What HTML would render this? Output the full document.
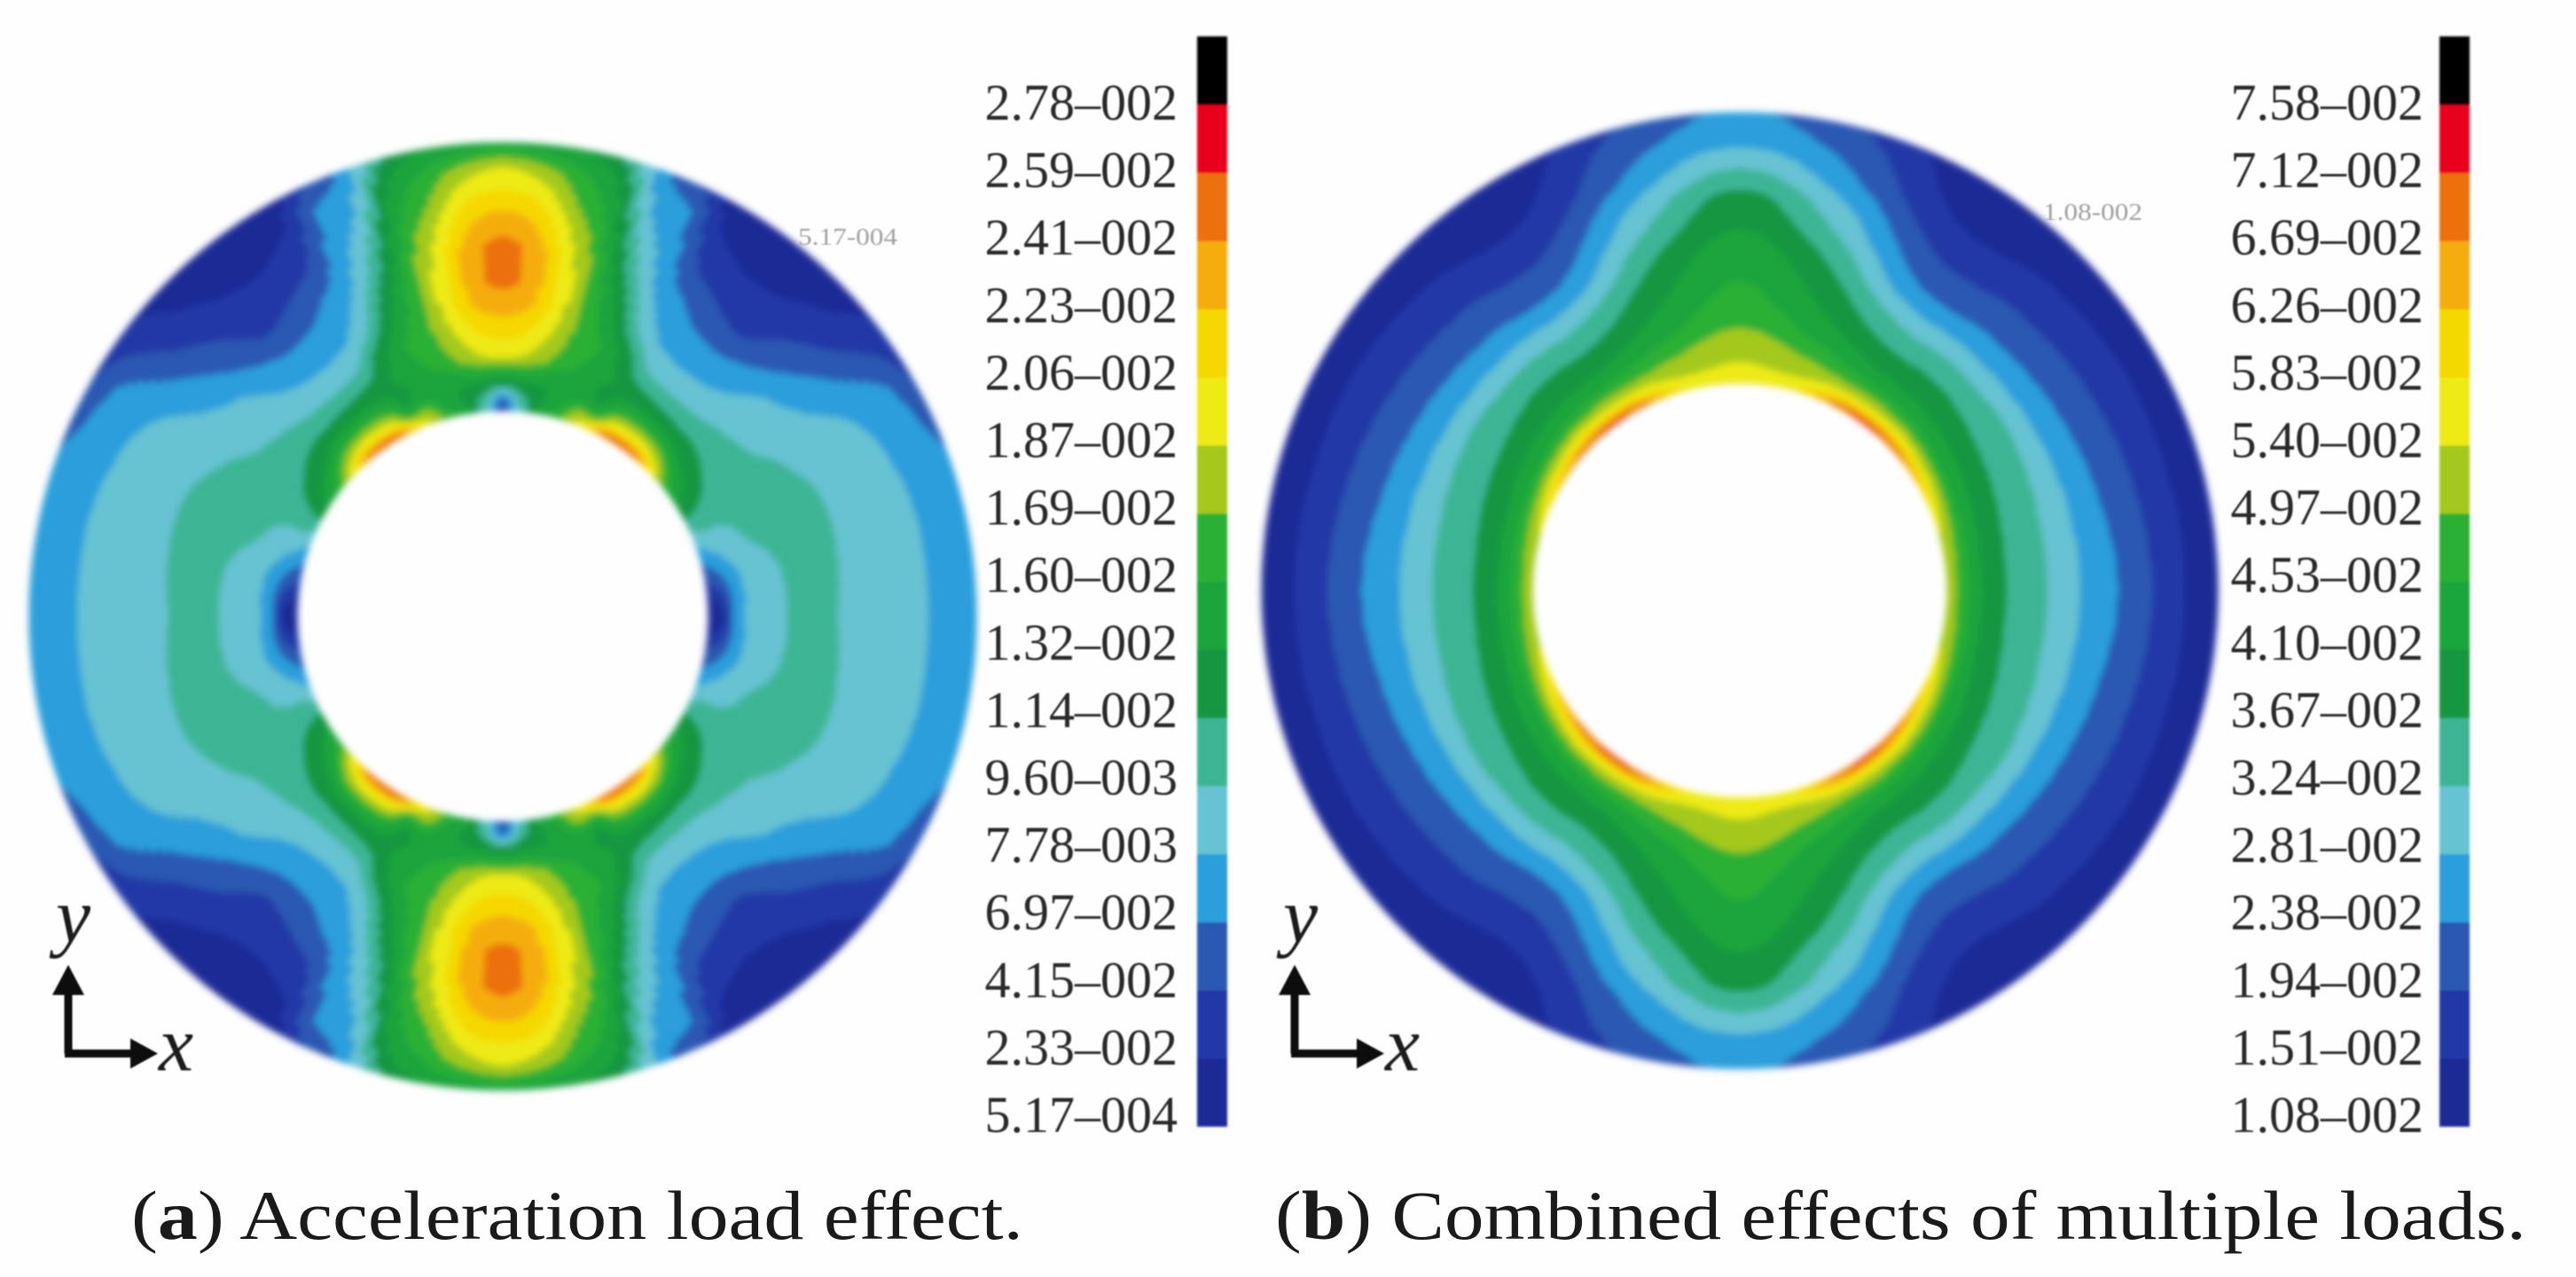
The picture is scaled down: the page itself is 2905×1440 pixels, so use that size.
<!DOCTYPE html>
<html lang="en">
<head>
<meta charset="utf-8">
<title>Acceleration load effect and combined effects of multiple loads</title>
<style>
  html, body { margin: 0; padding: 0; background: #fff; }
  svg { display: block; }
  text { font-family: "Liberation Serif", serif; }
</style>
</head>
<body>
<svg id="figure" width="2905" height="1440" viewBox="0 0 2905 1440" xmlns="http://www.w3.org/2000/svg">
  <defs>
    <filter id="soft" x="-5%" y="-5%" width="110%" height="110%"><feGaussianBlur stdDeviation="4"/></filter>
    <filter id="softText" x="-5%" y="-5%" width="110%" height="110%"><feGaussianBlur stdDeviation="0.9"/></filter>
    <filter id="softBar" x="-30%" y="-2%" width="160%" height="104%"><feGaussianBlur stdDeviation="1.2"/></filter>
  </defs>
  <rect width="2905" height="1440" fill="#fefefe"/>

  <g id="panelA"></g>
  <g id="panelB"></g>

  <g filter="url(#softText)">
    <text x="900" y="276" font-size="27" fill="#a0a0a0" textLength="112" lengthAdjust="spacingAndGlyphs">5.17-004</text>
  </g>
  <g filter="url(#softText)">
    <text x="2304" y="248" font-size="27" fill="#a0a0a0" textLength="112" lengthAdjust="spacingAndGlyphs">1.08-002</text>
  </g>

  <g filter="url(#softText)">
    <path d="M77 1188V1115" stroke="#111" stroke-width="9" fill="none"/>
    <path d="M77 1088L59 1122H95Z" fill="#111"/>
    <path d="M73 1188H152" stroke="#111" stroke-width="9" fill="none"/>
    <path d="M178 1188L147 1171V1205Z" fill="#111"/>
    <text x="63" y="1062" font-size="88" font-style="italic" fill="#1a1a1a">y</text>
    <text x="179" y="1207" font-size="88" font-style="italic" fill="#1a1a1a">x</text>
  </g>
  <g filter="url(#softText)">
    <path d="M1460 1188V1115" stroke="#111" stroke-width="9" fill="none"/>
    <path d="M1460 1088L1442 1122H1478Z" fill="#111"/>
    <path d="M1456 1188H1535" stroke="#111" stroke-width="9" fill="none"/>
    <path d="M1561 1188L1530 1171V1205Z" fill="#111"/>
    <text x="1447" y="1062" font-size="88" font-style="italic" fill="#1a1a1a">y</text>
    <text x="1562" y="1207" font-size="88" font-style="italic" fill="#1a1a1a">x</text>
  </g>

  <g>
    <text x="148" y="1397" font-size="78" fill="#1a1a1a" textLength="1006" lengthAdjust="spacingAndGlyphs">(<tspan font-weight="bold">a</tspan>) Acceleration load effect.</text>
    <text x="1438" y="1397" font-size="78" fill="#1a1a1a" textLength="1411" lengthAdjust="spacingAndGlyphs">(<tspan font-weight="bold">b</tspan>) Combined effects of multiple loads.</text>
  </g>
</svg>

<script>
// Legend tick labels, top to bottom
const labelsA = ["2.78–002","2.59–002","2.41–002","2.23–002","2.06–002","1.87–002","1.69–002","1.60–002","1.32–002","1.14–002","9.60–003","7.78–003","6.97–002","4.15–002","2.33–002","5.17–004"];
const labelsB = ["7.58–002","7.12–002","6.69–002","6.26–002","5.83–002","5.40–002","4.97–002","4.53–002","4.10–002","3.67–002","3.24–002","2.81–002","2.38–002","1.94–002","1.51–002","1.08–002"];

// Band palette, low level to high level
const bandColors = ["#1c2a96","#2038a6","#2b58b2","#2c9fdc","#66c3d2","#3db595","#129641","#1aa43c","#2bb034","#a4c91a","#eeea14","#f5d800","#f5ad0c","#ec6f0e","#e8001e","#000000"];

// Normalised radial stations through the wall (0 = bore, 1 = outer rim)
const wallStations = [0,.05,.1,.15,.2,.3,.4,.5,.6,.7,.8,.9,1];

// Panel (a): contour level read at each angle (deg from +x) and wall station
const anglesA = [0,10,20,30,40,50,60,65,70,75,80,85,90];
const levelsA = [
  [.3,.7,3.2,4.2,4.5,5.05,5.5,4.9,4.6,4.4,4.1,3.6,3.1],
  [2,2.6,3.6,4.2,4.5,5.1,5.5,5,4.6,4.4,4.1,3.6,3.1],
  [4,4.5,4.7,4.9,5.2,5.5,5.5,5,4.6,4.3,4,3.4,3.05],
  [6.5,6.2,5.8,5.5,5.4,5.2,5,4.6,4.3,4,3.6,3.1,2],
  [9,8,7,6.3,5.8,5,4.4,4,3.2,2.6,1.9,1.3,.9],
  [13.5,10.5,8.5,7,6,4.5,3.8,3,2,1.5,1,.6,.4],
  [14,10.5,8.5,7.2,6.5,5,4,3.4,2.9,2,1.4,.8,.4],
  [12,8.5,7,6.8,7,6.8,5.2,4.4,3.7,3.4,3.1,2.9,2],
  [10,9,7.5,7.2,7.6,8,7.3,6.6,5.7,5,4.3,3.8,3.2],
  [8.5,7.5,7.2,7.5,8.2,8.6,8.7,8.7,8.4,8,7.5,7,6],
  [7.5,6.8,7,7.8,9,9.9,10.5,10.7,10.5,9.9,9,8.3,7],
  [5,5.5,6.8,8.2,9.8,11,12.1,12.6,12.6,11.9,10.8,9.5,7.2],
  [2,3,6.2,8.2,10,11.5,12.5,13.4,13.4,12.6,11.3,10.1,7.5]
];

// Panel (b): contour level read at each angle and wall station
const anglesB = [0,15,30,45,60,75,90];
const levelsB = [
  [10,8.5,7.5,6.7,6.1,5.5,4.8,3.9,3.2,2.5,1.6,.8,.2],
  [10,8.8,7.6,6.8,6.2,5.5,4.8,3.8,3,2.3,1.5,.8,.2],
  [12,9.5,8,7.2,6.5,5.6,4.9,3.6,2.8,2.1,1.4,.8,.3],
  [14,10.5,8.5,7.5,6.8,5.9,4.8,3.4,2.6,1.9,1.2,.7,.3],
  [14,10.5,8.8,7.8,7,5.9,4.8,3.4,2.5,1.8,1.1,.6,.3],
  [11,10,9.3,8.7,8,7.2,6.6,5.9,5,4.2,3.2,2.6,2],
  [10.8,10.2,9.8,9.5,9,8.3,7.9,7.4,6.8,6.2,4.9,3.6,3.1]
];

const SVGNS = "http://www.w3.org/2000/svg";

function radialValue(row, rho) {
  let k = 0;
  while (k < wallStations.length - 2 && rho >= wallStations[k + 1]) k++;
  const t = (rho - wallStations[k]) / (wallStations[k + 1] - wallStations[k]);
  return row[k] + (row[k + 1] - row[k]) * t;
}

function sampleField(field, angles, thetaDeg, rho) {
  let a = ((thetaDeg % 180) + 180) % 180;
  if (a > 90) a = 180 - a;
  const last = angles.length - 1;
  let i = 0;
  while (i < last - 1 && a >= angles[i + 1]) i++;
  const angleAt = function (j) {
    if (j < 0) return -angles[-j];
    if (j > last) return 180 - angles[2 * last - j];
    return angles[j];
  };
  const pick = function (j) {
    let m = j;
    if (m < 0) m = -m;
    if (m > last) m = 2 * last - m;
    return radialValue(field[m], rho);
  };
  const t0 = angleAt(i - 1), t1 = angleAt(i), t2 = angleAt(i + 1), t3 = angleAt(i + 2);
  const p0 = pick(i - 1), p1 = pick(i), p2 = pick(i + 1), p3 = pick(i + 2);
  const h = t2 - t1;
  const m1 = (p2 - p0) / (t2 - t0) * h;
  const m2 = (p3 - p1) / (t3 - t1) * h;
  const f = (a - t1) / h;
  const f2 = f * f, f3 = f2 * f;
  return (2 * f3 - 3 * f2 + 1) * p1 + (f3 - 2 * f2 + f) * m1 + (-2 * f3 + 3 * f2) * p2 + (f3 - f2) * m2;
}

function drawDisc(parentId, suffix, cx, cy, R, ri, field, angles) {
  const parent = document.getElementById(parentId);
  const group = document.createElementNS(SVGNS, "g");
  
  
  group.setAttribute("filter", "url(#soft)");
  const parts = bandColors.map(function () { return []; });
  const dTheta = 1, nRho = 160;
  const px = function (rho, theta) {
    const r = ri + (R - ri) * rho;
    const t = theta * Math.PI / 180;
    return (cx + r * Math.cos(t)).toFixed(1) + " " + (cy - r * Math.sin(t)).toFixed(1);
  };
  const bandAt = function (theta, rho) {
    const v = sampleField(field, angles, theta, rho);
    return Math.max(0, Math.min(bandColors.length - 1, Math.floor(v)));
  };
  for (let th = 0; th < 360; th += dTheta) {
    let start = 0;
    let current = bandAt(th + dTheta / 2, 0.5 / nRho);
    for (let n = 1; n <= nRho; n++) {
      const next = n < nRho ? bandAt(th + dTheta / 2, (n + 0.5) / nRho) : -1;
      if (next !== current) {
        const r0 = start / nRho, r1 = n / nRho;
        parts[current].push("M" + px(r0, th) + "L" + px(r1, th) + "L" + px(r1, th + dTheta) + "L" + px(r0, th + dTheta) + "Z");
        start = n;
        current = next;
      }
    }
  }
  parts.forEach(function (list, b) {
    if (!list.length) return;
    const p = document.createElementNS(SVGNS, "path");
    
    
    p.setAttribute("d", list.join(""));
    p.setAttribute("fill", bandColors[b]);
    p.setAttribute("stroke", bandColors[b]);
    p.setAttribute("stroke-width", "1");
    group.appendChild(p);
  });
  parent.appendChild(group);
}

function drawLegend(parentId, suffix, barX, barW, textRight, labels) {
  const parent = document.getElementById(parentId);
  const legendTop = 41, legendBottom = 1270;
  const firstBaseline = 135, labelGap = 76.1;
  const bandH = (legendBottom - legendTop) / bandColors.length;
  const legendY = function (i) { return legendTop + (bandColors.length - 1 - i) * bandH; };
  const bar = document.createElementNS(SVGNS, "g");
  
  
  bar.setAttribute("filter", "url(#softBar)");
  bandColors.forEach(function (c, i) {
    const r = document.createElementNS(SVGNS, "rect");
    
    
    r.setAttribute("x", barX);
    r.setAttribute("y", legendY(i).toFixed(1));
    r.setAttribute("width", barW);
    r.setAttribute("height", (bandH + 0.6).toFixed(1));
    r.setAttribute("fill", c);
    bar.appendChild(r);
  });
  parent.appendChild(bar);
  const textGroup = document.createElementNS(SVGNS, "g");
  
  
  textGroup.setAttribute("filter", "url(#softText)");
  labels.forEach(function (label, i) {
    const t = document.createElementNS(SVGNS, "text");
    
    
    t.setAttribute("x", textRight);
    t.setAttribute("y", (firstBaseline + i * labelGap).toFixed(1));
    t.setAttribute("text-anchor", "end");
    t.setAttribute("font-size", "58");
    t.setAttribute("fill", "#2a2a2a");
    t.textContent = label;
    textGroup.appendChild(t);
  });
  parent.appendChild(textGroup);
}

drawDisc("panelA", "a", 567, 695, 534, 232, levelsA, anglesA);
drawDisc("panelB", "b", 1962, 666, 539, 234, levelsB, anglesB);
drawLegend("panelA", "a", 1350, 34, 1328, labelsA);
drawLegend("panelB", "b", 2751, 34, 2733, labelsB);
</script>
</body>
</html>
